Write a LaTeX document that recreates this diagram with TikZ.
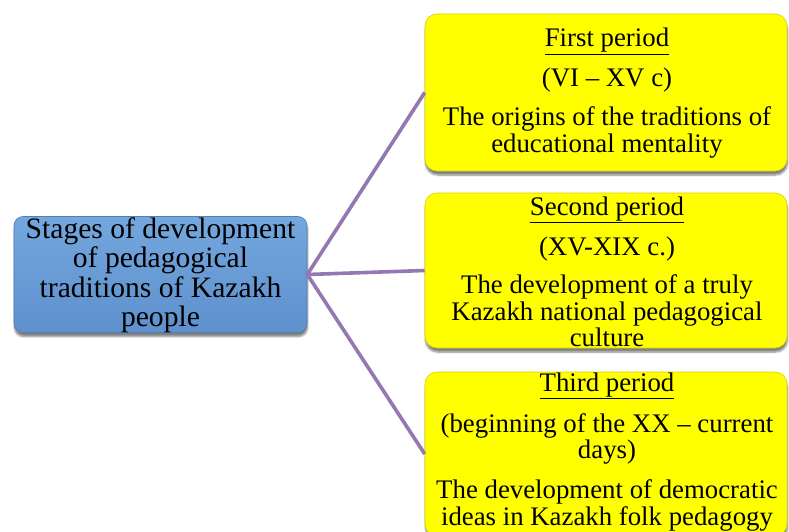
\documentclass[tikz,border=0pt]{standalone}
\usepackage{fontspec}
\setmainfont{Liberation Serif}
\usetikzlibrary{shadows.blur}
\definecolor{bluetop}{HTML}{74A7DD}
\definecolor{bluebot}{HTML}{5E91CD}
\definecolor{blueedge}{HTML}{4F7FB8}
\definecolor{yel}{HTML}{FFFF00}
\definecolor{yeledge}{HTML}{D8D000}
\definecolor{conn}{HTML}{9378B3}
\tikzset{
  stagebox/.style={rectangle, rounded corners=9pt, top color=bluetop, bottom color=bluebot,
    draw=blueedge, line width=0.6pt, minimum width=293pt, minimum height=116pt, inner sep=0pt,
    blur shadow={shadow blur steps=6, shadow xshift=0.5pt, shadow yshift=-4pt, shadow opacity=50}},
  periodbox/.style={rectangle, rounded corners=12pt, fill=yel, draw=yeledge, line width=0.6pt,
    minimum width=362pt, inner sep=0pt,
    blur shadow={shadow blur steps=6, shadow xshift=0.5pt, shadow yshift=-4pt, shadow opacity=50}},
  stagetext/.style={align=center, inner sep=0pt, font=\fontsize{29.6}{29.5}\selectfont},
  periodtext/.style={align=center, inner sep=0pt, font=\fontsize{26.8}{26.7}\selectfont},
  connector/.style={draw=conn, line width=3.6pt},
}
\begin{document}
\begin{tikzpicture}[x=1pt,y=-1pt]
\useasboundingbox (0,0) rectangle (789,532);
% boxes
\node[stagebox] (stages) at (160.5,274.5) {};
\node[periodbox, minimum height=157pt] (p1) at (606,92.5) {};
\node[periodbox, minimum height=155pt] (p2) at (606,270.5) {};
\node[periodbox, minimum height=164pt] (p3) at (606,454) {};
% connectors
\draw[connector] (stages.east) -- (p1.west);
\draw[connector] (stages.east) -- (p2.west);
\draw[connector] (stages.east) -- (p3.west);
% texts
\node[stagetext] (stagesT) at (160.5,275) {Stages of development\\of pedagogical\\traditions of Kazakh\\people};
\node[periodtext] (p1T) at (607,93) {\underline{First period}\\[13.5pt](VI – XV c)\\[12pt]The origins of the traditions of\\educational mentality};
\node[periodtext] (p2T) at (607,272) {\underline{Second period}\\[13.5pt](XV-XIX c.)\\[11pt]The development of a truly\\Kazakh national pedagogical\\culture};
\node[periodtext] (p3T) at (607,452) {\underline{Third period}\\[14pt](beginning of the XX – current\\days)\\[13pt]The development of democratic\\ideas in Kazakh folk pedagogy};
\end{tikzpicture}
\end{document}
